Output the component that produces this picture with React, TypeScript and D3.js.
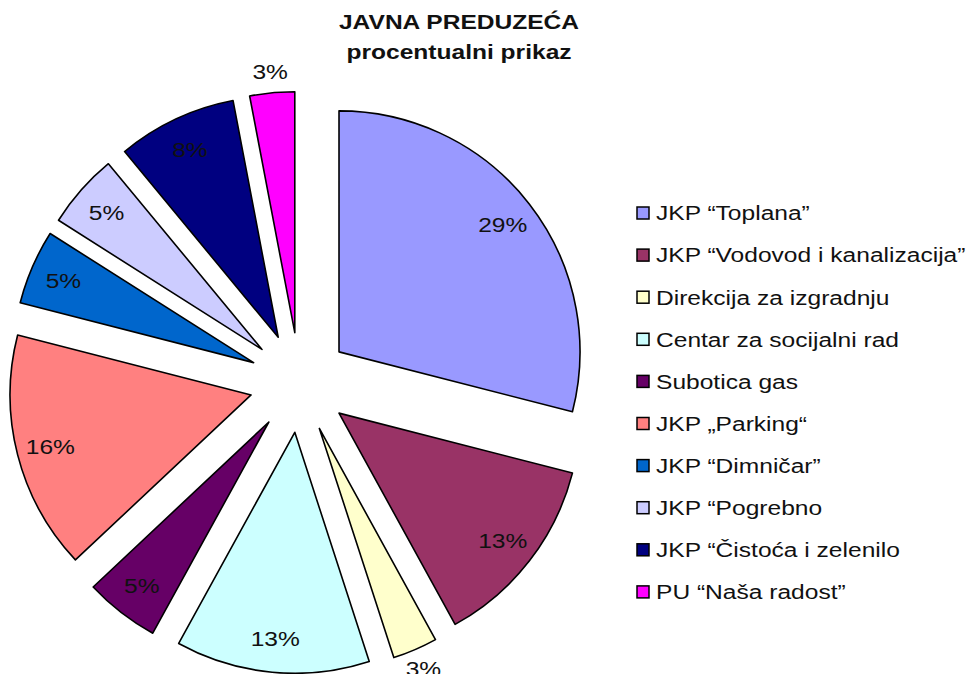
import React, { useEffect, useRef } from "react";
import * as d3 from "d3";

const categories = [
  "JKP “Toplana”",
  "JKP “Vodovod i kanalizacija”",
  "Direkcija za izgradnju",
  "Centar za socijalni rad",
  "Subotica gas",
  "JKP „Parking“",
  "JKP “Dimničar”",
  "JKP “Pogrebno",
  "JKP “Čistoća i zelenilo",
  "PU “Naša radost”",
];
const shares = [29, 13, 3, 13, 5, 16, 5, 5, 8, 3];
const colors = [
  "#9999ff", "#993366", "#ffffcc", "#ccffff", "#660066",
  "#ff8080", "#0066cc", "#ccccff", "#000080", "#ff00ff",
];
const titleLines = ["JAVNA PREDUZEĆA", "procentualni prikaz"];

// the source picture is a bit wider than tall, text looks stretched
const stretch = 1.17;

export default function App() {
  const ref = useRef<HTMLDivElement>(null);

  useEffect(() => {
    const root = d3.select(ref.current);
    root.selectAll("*").remove();

    const width = 972, height = 674;
    const svg = root.append("svg")
      .attr("width", width).attr("height", height)
      .style("position", "absolute").style("left", "0px").style("top", "0px")
      .style("font-family", "'Liberation Sans', Arial, sans-serif");

    svg.append("rect").attr("width", width).attr("height", height).attr("fill", "#fff");

    // title
    svg.selectAll(".title").data(titleLines).join("text")
      .attr("transform", (d, i) => `translate(459,${29 + i * 30}) scale(${stretch},1)`)
      .attr("text-anchor", "middle").attr("font-weight", "bold")
      .attr("font-size", 21).attr("fill", "#111")
      .text((d) => d);

    const cx = 299.5, cy = 382.5, r = 241, explode = 50;
    const items = categories.map((c, i) => ({ name: c, value: shares[i], color: colors[i] }));
    const pie = d3.pie<any>().sort(null).value((d) => d.value);
    const arcs = pie(items);
    const arc = d3.arc<any>().innerRadius(0).outerRadius(r);

    const g = svg.append("g").attr("transform", `translate(${cx},${cy})`);

    const slices = g.selectAll(".slice").data(arcs).join("g")
      .attr("transform", (d) => {
        const a = (d.startAngle + d.endAngle) / 2;
        return `translate(${Math.sin(a) * explode},${-Math.cos(a) * explode})`;
      });

    slices.append("path")
      .attr("d", arc as any)
      .attr("fill", (d) => d.data.color)
      .attr("stroke", "#000").attr("stroke-width", 1.6)
      .attr("stroke-linejoin", "round");

    // small slices get their label outside
    slices.append("text")
      .attr("transform", (d) => {
        const a = (d.startAngle + d.endAngle) / 2;
        const rr = d.data.value <= 3 ? r + 21 : r * 0.86;
        return `translate(${Math.sin(a) * rr},${-Math.cos(a) * rr}) scale(${stretch},1)`;
      })
      .attr("dy", "0.35em")
      .attr("text-anchor", "middle")
      .attr("font-size", 21).attr("fill", "#111")
      .text((d) => `${d.data.value}%`);

    // legend
    const legend = svg.append("g").attr("transform", "translate(637,213)");
    const rows = legend.selectAll(".row").data(items).join("g")
      .attr("transform", (d, i) => `translate(0,${i * 42.1})`);
    rows.append("rect")
      .attr("x", 0).attr("y", -6).attr("width", 12).attr("height", 12)
      .attr("fill", (d) => d.color).attr("stroke", "#000").attr("stroke-width", 1.5);
    rows.append("text")
      .attr("transform", `translate(19,0) scale(${stretch},1)`)
      .attr("dy", "0.35em")
      .attr("font-size", 21).attr("fill", "#111")
      .text((d) => d.name);
  }, []);

  return <div ref={ref}></div>;
}
